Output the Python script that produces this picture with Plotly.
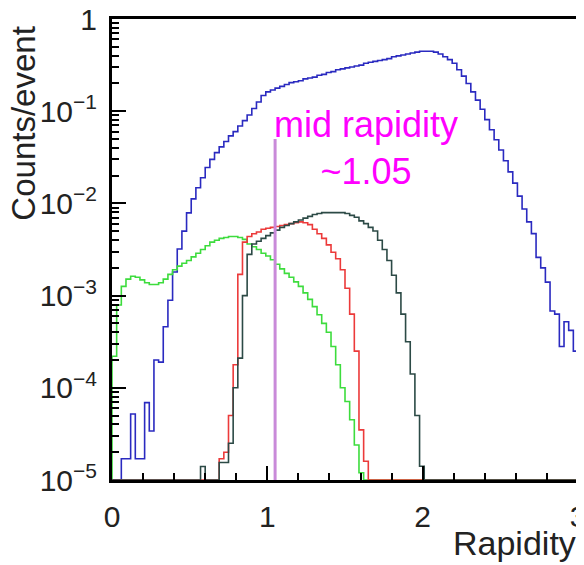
import plotly.graph_objects as go

# ---------------- data (counts/event per rapidity bin, 100 bins of 0.03 from 0 to 3) ----------------
bin_low = 0.0
bin_width = 0.03
n_bins = 100

blue_counts = [
    0, 0, 1.7e-5, 1.7e-5, 5.2e-5, 1.7e-5, 1.7e-5, 6.9e-5, 3.4e-5, 2.0e-4,
    1.9e-4, 4.6e-4, 8.9e-4, 1.8e-3, 3.2e-3, 5.0e-3, 7.9e-3, 1.12e-2, 1.48e-2, 1.9e-2,
    2.45e-2, 3.0e-2, 3.55e-2, 4.1e-2, 4.7e-2, 5.4e-2, 6.0e-2, 6.9e-2, 7.9e-2, 9.1e-2,
    0.107, 0.126, 0.148, 0.162, 0.170, 0.178, 0.186, 0.195, 0.204, 0.209,
    0.214, 0.224, 0.229, 0.234, 0.245, 0.251, 0.263, 0.269, 0.282, 0.288,
    0.295, 0.302, 0.309, 0.316, 0.331, 0.339, 0.347, 0.355, 0.363, 0.372,
    0.389, 0.398, 0.407, 0.417, 0.427, 0.437, 0.447, 0.447, 0.447, 0.437,
    0.417, 0.389, 0.363, 0.331, 0.282, 0.240, 0.200, 0.162, 0.132, 0.105,
    0.081, 0.063, 0.049, 0.038, 0.029, 0.022, 0.0166, 0.012, 0.0087, 0.0063,
    0.0047, 0.0026, 0.0020, 0.0014, 6.8e-4, 6.3e-4, 2.8e-4, 5.2e-4, 4.2e-4, 2.5e-4,
]

green_counts = [
    2.2e-4, 7.9e-4, 1.26e-3, 1.51e-3, 1.62e-3, 1.58e-3, 1.48e-3, 1.38e-3, 1.32e-3, 1.32e-3,
    1.38e-3, 1.51e-3, 1.70e-3, 1.91e-3, 2.09e-3, 2.24e-3, 2.40e-3, 2.63e-3, 2.88e-3, 3.16e-3,
    3.47e-3, 3.80e-3, 3.98e-3, 4.17e-3, 4.27e-3, 4.37e-3, 4.37e-3, 4.27e-3, 4.07e-3, 3.63e-3,
    3.39e-3, 3.16e-3, 2.88e-3, 2.69e-3, 2.45e-3, 2.19e-3, 1.95e-3, 1.74e-3, 1.58e-3, 1.41e-3,
    1.26e-3, 1.07e-3, 9.1e-4, 7.6e-4, 6.2e-4, 5.0e-4, 4.0e-4, 2.8e-4, 1.78e-4, 1.0e-4,
    7.1e-5, 4.5e-5, 2.4e-5, 1.2e-5, 0, 0, 0, 0, 0, 0,
    0, 0, 0, 0, 0, 0, 0, 0, 0, 0,
    0, 0, 0, 0, 0, 0, 0, 0, 0, 0,
    0, 0, 0, 0, 0, 0, 0, 0, 0, 0,
    0, 0, 0, 0, 0, 0, 0, 0, 0, 0,
]

red_counts = [
    0, 0, 0, 0, 0, 0, 0, 0, 0, 0,
    0, 0, 0, 0, 0, 0, 0, 0, 0, 0,
    0, 0, 0, 1.7e-5, 2.0e-5, 5.0e-5, 1.78e-4, 1.7e-3, 3.8e-3, 4.37e-3,
    4.68e-3, 4.9e-3, 5.25e-3, 5.37e-3, 5.5e-3, 5.62e-3, 5.75e-3, 5.89e-3, 6.03e-3, 6.17e-3,
    6.31e-3, 6.17e-3, 5.89e-3, 5.25e-3, 4.68e-3, 4.17e-3, 3.55e-3, 2.95e-3, 2.51e-3, 1.91e-3,
    1.20e-3, 6.3e-4, 2.5e-4, 3.5e-5, 1.6e-5, 0, 0, 0, 0, 0,
    0, 0, 0, 0, 0, 0, 0, 0, 0, 0,
    0, 0, 0, 0, 0, 0, 0, 0, 0, 0,
    0, 0, 0, 0, 0, 0, 0, 0, 0, 0,
    0, 0, 0, 0, 0, 0, 0, 0, 0, 0,
]

dark_counts = [
    0, 0, 0, 0, 0, 0, 0, 0, 0, 0,
    0, 0, 0, 0, 0, 0, 0, 0, 0, 1.4e-5,
    0, 0, 0, 1.55e-5, 1.55e-5, 2.5e-5, 1.0e-4, 2.1e-4, 1.0e-3, 2.8e-3,
    3.63e-3, 3.89e-3, 4.17e-3, 4.47e-3, 4.79e-3, 5.13e-3, 5.5e-3, 5.75e-3, 6.03e-3, 6.31e-3,
    6.61e-3, 6.92e-3, 7.24e-3, 7.59e-3, 7.76e-3, 7.94e-3, 7.94e-3, 7.94e-3, 7.94e-3, 7.94e-3,
    7.76e-3, 7.41e-3, 7.08e-3, 6.46e-3, 6.03e-3, 5.5e-3, 5.01e-3, 3.98e-3, 3.16e-3, 2.4e-3,
    1.66e-3, 1.07e-3, 6.3e-4, 3.16e-4, 1.41e-4, 5.0e-5, 1.41e-5, 0, 0, 0,
    0, 0, 0, 0, 0, 0, 0, 0, 0, 0,
    0, 0, 0, 0, 0, 0, 0, 0, 0, 0,
    0, 0, 0, 0, 0, 0, 0, 0, 0, 0,
]

mid_rapidity = 1.05
mid_line_top = 0.05

x_tick_vals = [0, 1, 2, 3]
x_tick_text = ["0", "1", "2", "3"]
x_minor_vals = [0.2, 0.4, 0.6, 0.8, 1.2, 1.4, 1.6, 1.8, 2.2, 2.4, 2.6, 2.8]
y_tick_vals = [1e-5, 1e-4, 1e-3, 1e-2, 1e-1, 1]
y_tick_text = ["10<sup>\u22125</sup>", "10<sup>\u22124</sup>", "10<sup>\u22123</sup>",
               "10<sup>\u22122</sup>", "10<sup>\u22121</sup>", "1"]
y_minor_vals = [m * 10.0 ** e for e in range(-5, 0) for m in range(2, 10)]

y_floor = 1e-5
edges = [round(bin_low + i * bin_width, 4) for i in range(n_bins + 1)]


def step_xy(vals):
    xs = [edges[0]]
    ys = [y_floor]
    for i, v in enumerate(vals):
        xs.append(edges[i])
        ys.append(max(v, y_floor))
    xs.append(edges[-1])
    ys.append(max(vals[-1], y_floor))
    xs.append(edges[-1])
    ys.append(y_floor)
    return xs, ys


fig = go.Figure()
series = [
    (blue_counts, "#2a2ac0"),
    (green_counts, "#3ddc3d"),
    (red_counts, "#ec3a3a"),
    (dark_counts, "#2c4a46"),
]
for vals, col in series:
    xs, ys = step_xy(vals)
    fig.add_trace(go.Scatter(x=xs, y=ys, mode="lines", line=dict(color=col, width=1.6, shape="hv"),
                             hoverinfo="skip"))

fig.add_trace(go.Scatter(x=[mid_rapidity, mid_rapidity], y=[y_floor, mid_line_top], mode="lines",
                         line=dict(color="#c98ad9", width=3), hoverinfo="skip"))

font_family = "Liberation Sans, Arial, Helvetica, sans-serif"

# the page body has an 8px margin, so the figure is sized/offset to compensate
fig.update_layout(
    width=576, height=557,
    margin=dict(l=104, r=6, t=11, b=85),
    plot_bgcolor="white", paper_bgcolor="white",
    showlegend=False,
    font=dict(family=font_family, color="black"),
    xaxis=dict(
        range=[0, 3], showgrid=False, zeroline=False, automargin=False,
        showline=True, linewidth=3, linecolor="black", mirror=True,
        ticks="inside", ticklen=14, tickwidth=1.5, tickcolor="black",
        tickvals=x_tick_vals, ticktext=x_tick_text,
        tickfont=dict(size=30, family=font_family, color="#222"),
        ticklabelstandoff=8, ticklabeloverflow="allow",
        minor=dict(tickvals=x_minor_vals, ticks="inside", ticklen=7, tickwidth=1.5, tickcolor="black"),
    ),
    yaxis=dict(
        type="log", range=[-5, 0], showgrid=False, zeroline=False, automargin=False,
        showline=True, linewidth=3, linecolor="black", mirror=True,
        ticks="inside", ticklen=14, tickwidth=1.5, tickcolor="black",
        tickvals=y_tick_vals, ticktext=y_tick_text,
        tickfont=dict(size=30, family=font_family, color="#222"),
        ticklabelstandoff=6, ticklabeloverflow="allow",
        minor=dict(tickvals=y_minor_vals, ticks="inside", ticklen=7, tickwidth=1.5, tickcolor="black"),
    ),
    annotations=[
        dict(text="Counts/event", textangle=-90, xref="paper", yref="paper",
             x=-0.19, y=0.774, xanchor="center", yanchor="middle", showarrow=False,
             font=dict(size=33, family=font_family, color="#222")),
        dict(text="Rapidity", xref="paper", yref="paper", x=1.0, y=-0.137,
             xanchor="right", yanchor="middle", showarrow=False,
             font=dict(size=34, family=font_family, color="#222")),
        dict(text="mid rapidity<br>~1.05", xref="x", yref="y", x=1.635, y=-1.40,
             xanchor="center", yanchor="middle", showarrow=False, align="center",
             font=dict(size=36, family=font_family, color="#ff00ff")),
    ],
)

fig.write_html("out.html")
